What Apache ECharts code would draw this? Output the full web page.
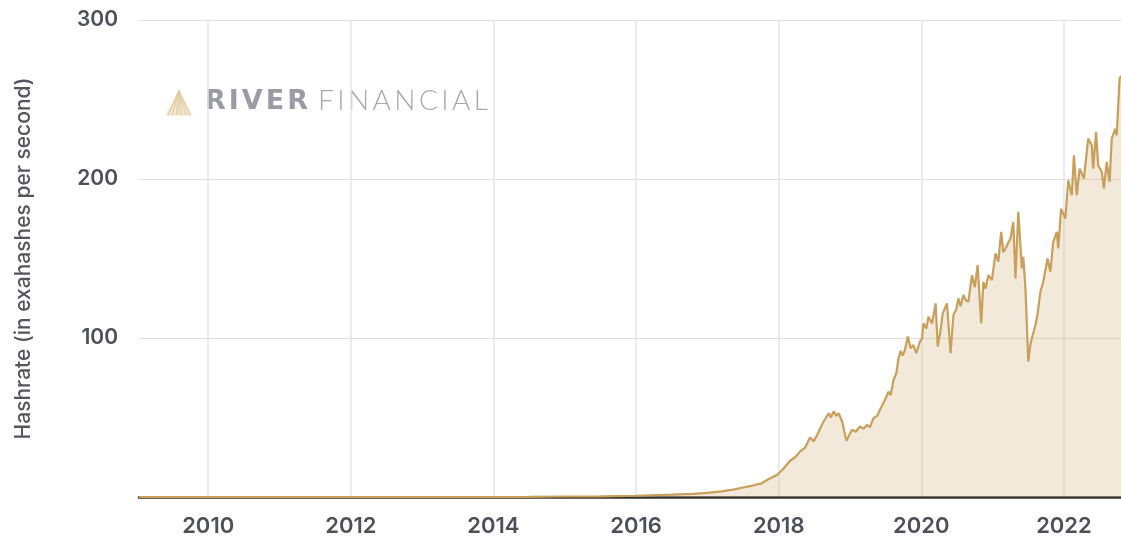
<!DOCTYPE html>
<html lang="en">
<head>
    <meta charset="UTF-8">
    <title>Bitcoin hashrate</title>
    <script src="https://cdn.jsdelivr.net/npm/echarts@6.0.0/dist/echarts.min.js"></script>
    <style>
        body { margin: 0; padding: 0; background: #fff; }
        #chart { width: 1121px; height: 537px; }
    </style>
</head>
<body>
    <div id="chart"></div>

    <script>
        // decimal year of each sample
        const years = [
            2009.03, 2010.0, 2011.0, 2012.0, 2013.0, 2014.0, 2014.5, 2015.0, 2015.5, 2016.0,
            2016.5, 2016.8, 2017.0, 2017.2, 2017.36, 2017.5, 2017.6, 2017.7, 2017.74, 2017.85,
            2017.98, 2018.05, 2018.16, 2018.23, 2018.30, 2018.37, 2018.44, 2018.49, 2018.54, 2018.58,
            2018.63, 2018.70, 2018.73, 2018.77, 2018.81, 2018.84, 2018.89, 2018.95, 2019.00, 2019.03,
            2019.08, 2019.14, 2019.19, 2019.24, 2019.28, 2019.33, 2019.38, 2019.42, 2019.49, 2019.54,
            2019.57, 2019.61, 2019.65, 2019.68, 2019.71, 2019.74, 2019.77, 2019.81, 2019.85, 2019.89,
            2019.93, 2019.98, 2020.01, 2020.03, 2020.07, 2020.10, 2020.15, 2020.20, 2020.23, 2020.27,
            2020.30, 2020.36, 2020.41, 2020.45, 2020.49, 2020.52, 2020.55, 2020.59, 2020.62, 2020.66,
            2020.71, 2020.75, 2020.79, 2020.84, 2020.87, 2020.90, 2020.94, 2020.99, 2021.04, 2021.08,
            2021.12, 2021.15, 2021.18, 2021.22, 2021.25, 2021.29, 2021.32, 2021.36, 2021.41, 2021.43,
            2021.46, 2021.50, 2021.53, 2021.55, 2021.60, 2021.63, 2021.67, 2021.71, 2021.77, 2021.81,
            2021.85, 2021.90, 2021.92, 2021.96, 2022.02, 2022.06, 2022.11, 2022.14, 2022.18, 2022.22,
            2022.28, 2022.34, 2022.39, 2022.41, 2022.45, 2022.48, 2022.53, 2022.56, 2022.60, 2022.64,
            2022.67, 2022.72, 2022.74, 2022.78, 2022.80
        ];

        // hashrate in EH/s
        const hashrate = [
            0, 0, 0, 0, 0, 0.01, 0.1, 0.3, 0.4, 0.8,
            1.5, 2.0, 2.6, 3.5, 4.6, 6, 6.8, 8, 8.2, 11,
            14, 17, 22.8, 25, 28.7, 31, 37.5, 35, 39, 43,
            47.5, 52.7, 50, 53.8, 51, 52.7, 47.5, 35.3, 40, 42.3,
            41, 44.3, 43, 45.4, 44, 49.6, 51, 54.8, 61, 66.3,
            64, 73.6, 78, 87.3, 91.9, 89, 92.5, 100.9, 93.5, 95.6,
            90.4, 97.7, 99.8, 109.2, 106, 113.4, 109.2, 121.8, 94.6, 105,
            115.5, 121.8, 90.4, 114.4, 118, 124.9, 120, 127, 124, 122.8,
            139.5, 132, 145.8, 109.2, 135.4, 131, 139.5, 136.4, 153.2, 148,
            166.8, 154, 156.3, 160, 162.6, 173, 137.5, 179.3, 143.8, 151.1,
            131.2, 85.2, 96, 99.8, 108.2, 115, 129.1, 135.4, 150, 141.7,
            160.5, 166.8, 156.3, 181.4, 175.1, 199.2, 189.8, 214.9, 189.8, 206.5,
            200.3, 225.4, 221.2, 206.5, 229.6, 208.6, 204.5, 194, 210.7, 198.2,
            225.4, 231.6, 227.5, 263, 265
        ];

        const yearTicks = [2010, 2012, 2014, 2016, 2018, 2020, 2022];

        const chart = echarts.init(document.getElementById('chart'));

        const labelFont = {
            fontFamily: 'Inter, sans-serif',
            fontSize: 21,
            fontWeight: 600,
            color: '#4f4f5c'
        };

        // watermark letters spread over a given width
        const measureCtx = document.createElement('canvas').getContext('2d');
        function spacedText(text, x, y, width, font, fill) {
            measureCtx.font = font;
            const widths = text.split('').map(c => measureCtx.measureText(c).width);
            const total = widths.reduce((a, b) => a + b, 0);
            const gap = (width - total) / (text.length - 1);
            let cx = x;
            return text.split('').map((c, i) => {
                const el = { type: 'text', x: cx, y: y, style: { text: c, font: font, fill: fill } };
                cx += widths[i] + gap;
                return el;
            });
        }

        const rays = [3, 7, 11, 14, 17, 21, 25].map(bx => ({
            type: 'line',
            shape: { x1: 14, y1: 0, x2: bx, y2: 25 },
            style: { stroke: '#e2cda2', lineWidth: 1.2 }
        }));

        const option = {
            backgroundColor: '#fff',
            animation: false,
            grid: { left: 139, right: 0, top: 20, bottom: 38 },
            xAxis: {
                type: 'value',
                min: 2009.03,
                max: 2022.8,
                axisLine: { show: true, lineStyle: { color: '#33332f', width: 2.5 } },
                axisTick: { show: false, customValues: yearTicks },
                axisLabel: Object.assign({ customValues: yearTicks, margin: 18 }, labelFont, {
                    fontSize: 22,
                    formatter: v => String(Math.round(v))
                }),
                splitLine: { show: true, lineStyle: { color: '#e4e4e4', width: 1.5 } }
            },
            yAxis: {
                type: 'value',
                min: 0,
                max: 300,
                interval: 100,
                name: 'Hashrate (in exahashes per second)',
                nameLocation: 'middle',
                nameGap: 105,
                nameTextStyle: {
                    fontFamily: 'Inter, sans-serif',
                    fontSize: 21,
                    fontWeight: 500,
                    color: '#55555f'
                },
                axisLine: { show: false },
                axisTick: { show: false },
                axisLabel: Object.assign({ margin: 21 }, labelFont, {
                    formatter: v => (v === 0 ? '' : String(v))
                }),
                splitLine: { show: true, lineStyle: { color: '#dedede', width: 1 } }
            },
            graphic: [
                {
                    type: 'group',
                    left: 165,
                    top: 88,
                    children: [
                        { type: 'polygon', shape: { points: [[14, 0], [0, 25], [28, 25]] },
                          style: { fill: '#f3e9d6' } }
                    ].concat(rays)
                },
                {
                    type: 'group',
                    left: 205,
                    top: 88,
                    children: spacedText('RIVER', 0, 0, 103, 'bold 27px "DejaVu Sans", sans-serif', '#9b9ba7')
                },
                {
                    type: 'group',
                    left: 318,
                    top: 87,
                    children: spacedText('FINANCIAL', 0, 0, 170, '300 28px Lato, "Open Sans", sans-serif', '#a8a8b3')
                }
            ],
            series: [
                {
                    type: 'line',
                    data: years.map((y, i) => [y, hashrate[i]]),
                    showSymbol: false,
                    lineStyle: { color: '#c99f5a', width: 2.2 },
                    areaStyle: { color: 'rgba(205, 168, 108, 0.36)' },
                    z: 3
                }
            ]
        };

        chart.setOption(option);
    </script>
</body>
</html>
